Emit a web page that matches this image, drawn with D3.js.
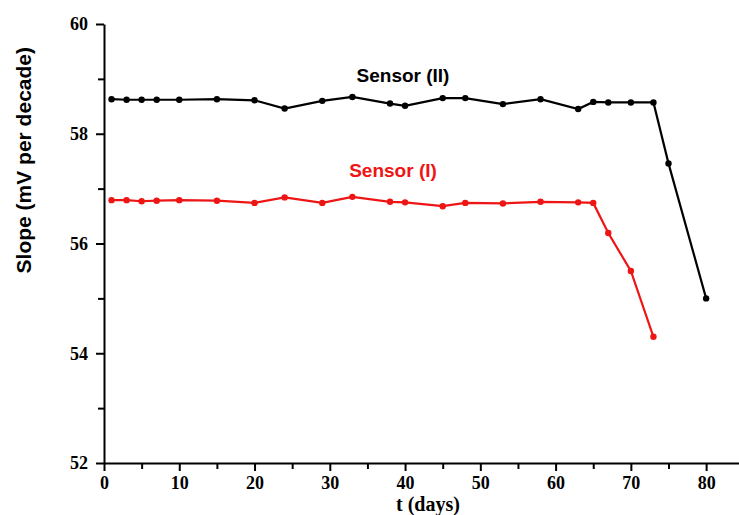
<!DOCTYPE html>
<html>
<head>
<meta charset="utf-8">
<script src="https://cdn.jsdelivr.net/npm/d3@7/dist/d3.min.js"></script>
<style>
  html, body { margin: 0; padding: 0; background: #fff; }
  svg { display: block; }
</style>
</head>
<body>
<svg id="chart" width="739" height="515"></svg>
<script>
// Slope stability over time for two sensors
const days2 = [1, 3, 5, 7, 10, 15, 20, 24, 29, 33, 38, 40, 45, 48, 53, 58, 63, 65, 67, 70, 73, 75, 80];
const sensor2 = [58.63, 58.62, 58.62, 58.62, 58.62, 58.63, 58.61, 58.46, 58.60, 58.67, 58.55, 58.51,
                 58.65, 58.65, 58.54, 58.63, 58.45, 58.58, 58.57, 58.57, 58.57, 57.46, 55.0];

const days1 = [1, 3, 5, 7, 10, 15, 20, 24, 29, 33, 38, 40, 45, 48, 53, 58, 63, 65, 67, 70, 73];
const sensor1 = [56.79, 56.79, 56.77, 56.78, 56.79, 56.78, 56.74, 56.84, 56.74, 56.85, 56.76, 56.75,
                 56.68, 56.74, 56.73, 56.76, 56.75, 56.74, 56.19, 55.50, 54.30];

const xTicks = [0, 10, 20, 30, 40, 50, 60, 70, 80];
const xMinor = [5, 15, 25, 35, 45, 55, 65, 75];
const yTicks = [52, 54, 56, 58, 60];
const yMinor = [53, 55, 57, 59];

const svg = d3.select("#chart");
const plotLeft = 104, plotRight = 740, plotTop = 24, plotBottom = 463;

const x = d3.scaleLinear().domain([0, 84.5]).range([plotLeft, plotRight]);
const y = d3.scaleLinear().domain([52, 60]).range([plotBottom, plotTop]);

const serif = "'Liberation Serif', 'Times New Roman', serif";
const sans = "'Liberation Sans', Arial, sans-serif";
const red = "#ee1515";

// minor ticks
svg.append("g")
  .attr("transform", `translate(0,${plotBottom})`)
  .call(d3.axisBottom(x).tickValues(xMinor).tickSize(6).tickFormat(""))
  .call(g => g.select(".domain").remove())
  .call(g => g.selectAll("line").attr("stroke", "#000").attr("stroke-width", 2));
svg.append("g")
  .attr("transform", `translate(${plotLeft},0)`)
  .call(d3.axisLeft(y).tickValues(yMinor).tickSize(6).tickFormat(""))
  .call(g => g.select(".domain").remove())
  .call(g => g.selectAll("line").attr("stroke", "#000").attr("stroke-width", 2));

// major axes
const xAxis = svg.append("g")
  .attr("transform", `translate(0,${plotBottom})`)
  .call(d3.axisBottom(x).tickValues(xTicks).tickSize(8).tickSizeOuter(0).tickPadding(5).tickFormat(d3.format("d")));
const yAxis = svg.append("g")
  .attr("transform", `translate(${plotLeft},0)`)
  .call(d3.axisLeft(y).tickValues(yTicks).tickSize(8).tickSizeOuter(0).tickPadding(8).tickFormat(d3.format("d")));

[xAxis, yAxis].forEach(g => {
  g.select(".domain").attr("stroke", "#000").attr("stroke-width", 2);
  g.selectAll(".tick line").attr("stroke", "#000").attr("stroke-width", 2);
  g.selectAll(".tick text")
    .attr("fill", "#000")
    .style("font-family", serif)
    .style("font-weight", "bold")
    .style("font-size", "18px");
});

// axis titles
svg.append("text")
  .attr("x", 428).attr("y", 511)
  .attr("text-anchor", "middle")
  .style("font-family", serif).style("font-weight", "bold").style("font-size", "20px")
  .text("t (days)");
svg.append("text")
  .attr("transform", `translate(31,47) rotate(-90)`)
  .attr("text-anchor", "end")
  .style("font-family", sans).style("font-weight", "bold").style("font-size", "21px")
  .text("Slope (mV per decade)");

const line = d3.line().x(d => x(d[0])).y(d => y(d[1]));

function drawSeries(days, vals, color) {
  const pts = days.map((d, i) => [d, vals[i]]);
  svg.append("path")
    .datum(pts)
    .attr("d", line)
    .attr("fill", "none")
    .attr("stroke", color)
    .attr("stroke-width", 2.2);
  svg.append("g").selectAll("circle")
    .data(pts).join("circle")
    .attr("cx", d => x(d[0]))
    .attr("cy", d => y(d[1]))
    .attr("r", 3.2)
    .attr("fill", color);
}

drawSeries(days2, sensor2, "#000");
drawSeries(days1, sensor1, red);

// series labels
svg.append("text")
  .attr("x", 403).attr("y", 82)
  .attr("text-anchor", "middle")
  .style("font-family", sans).style("font-weight", "bold").style("font-size", "19px")
  .attr("fill", "#000")
  .text("Sensor (II)");
svg.append("text")
  .attr("x", 393).attr("y", 177)
  .attr("text-anchor", "middle")
  .style("font-family", sans).style("font-weight", "bold").style("font-size", "19px")
  .attr("fill", red)
  .text("Sensor (I)");
</script>
</body>
</html>
